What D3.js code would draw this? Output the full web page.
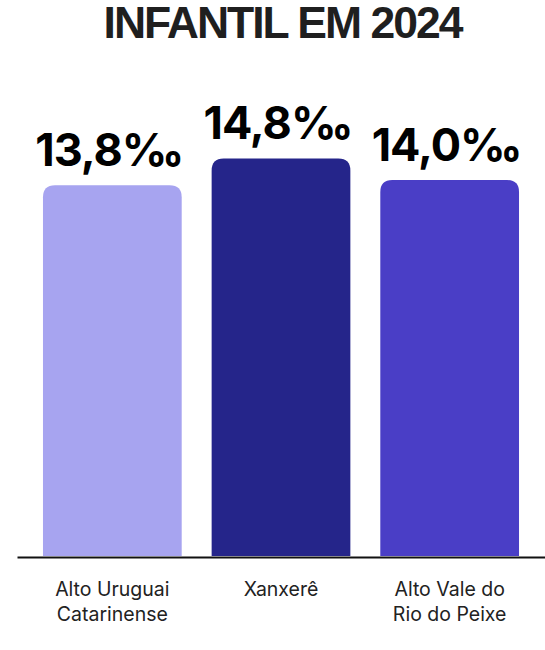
<!DOCTYPE html>
<html lang="pt-BR">
<head>
<meta charset="UTF-8">
<title>Infantil em 2024</title>
<script src="https://cdn.jsdelivr.net/npm/d3@7"></script>
<style>
  body { margin:0; background:#fff; }
  svg text { font-family: Inter, "Noto Sans", sans-serif; }
</style>
</head>
<body>
<div id="grafica"></div>
<script>
// datos
var titulo='INFANTIL EM 2024'
var categorias=['Alto Uruguai|Catarinense','Xanxerê','Alto Vale do|Rio do Peixe']
var valores=[13.8,14.8,14.0]
var etiquetas=['13,8‰','14,8‰','14,0‰']
var colores=['#a7a4f0','#25258a','#4a3ec6']

var ancho=545, alto=650
var svg=d3.select('#grafica').append('svg')
	.attr('width',ancho)
	.attr('height',alto)

// titulo
svg.append('text')
	.attr('x',282.5)
	.attr('y',38)
	.attr('text-anchor','middle')
	.attr('font-size',44.5)
	.attr('font-weight',700)
	.style('font-family','"Liberation Sans", Arial, sans-serif')
	.attr('fill','#1f1f1f')
	.attr('letter-spacing','-2')
	.text(titulo)

var x=d3.scaleBand()
	.domain(categorias)
	.range([17,545])
	.paddingInner(0.1775)
	.paddingOuter(0.154)
var y=d3.scaleLinear()
	.domain([0,15])
	.range([556,153.1])

// barras con esquinas superiores redondeadas
function barra(x0,y0,w,h,r) {
	return 'M'+x0+','+(y0+h)+
		'V'+(y0+r)+
		'Q'+x0+','+y0+' '+(x0+r)+','+y0+
		'H'+(x0+w-r)+
		'Q'+(x0+w)+','+y0+' '+(x0+w)+','+(y0+r)+
		'V'+(y0+h)+'Z'
}
svg.selectAll('path.barra')
	.data(valores)
	.enter()
	.append('path')
	.attr('class','barra')
	.attr('fill',function(d,i){return colores[i]})
	.attr('d',function(d,i){
		return barra(x(categorias[i]),y(d),x.bandwidth(),y(0)-y(d),12)
	})

// etiquetas de valor
svg.selectAll('text.valor')
	.data(valores)
	.enter()
	.append('text')
	.attr('class','valor')
	.attr('x',function(d,i){return x(categorias[i])+x.bandwidth()/2-3})
	.attr('y',function(d){return y(d)-19})
	.attr('text-anchor','middle')
	.attr('font-size',45)
	.attr('font-weight',700)
	.attr('letter-spacing','-1')
	.attr('fill','#000')
	.text(function(d,i){return etiquetas[i]})

// eje x
var eje=svg.append('g')
	.attr('transform','translate(0,'+557+')')
	.call(d3.axisBottom(x).tickSize(0).tickSizeOuter(0).tickFormat(''))
eje.select('.domain').attr('stroke','#111').attr('stroke-width',2)
eje.selectAll('.tick text').remove()
eje.selectAll('.tick').each(function(d){
	var t=d3.select(this).append('text')
		.attr('text-anchor','middle')
		.attr('fill','#222')
		.attr('font-size',19.5)
		.attr('y',39)
	d.split('|').forEach(function(linea,i){
		t.append('tspan').attr('x',0).attr('dy',i==0?0:25).text(linea)
	})
})
</script>
</body>
</html>
